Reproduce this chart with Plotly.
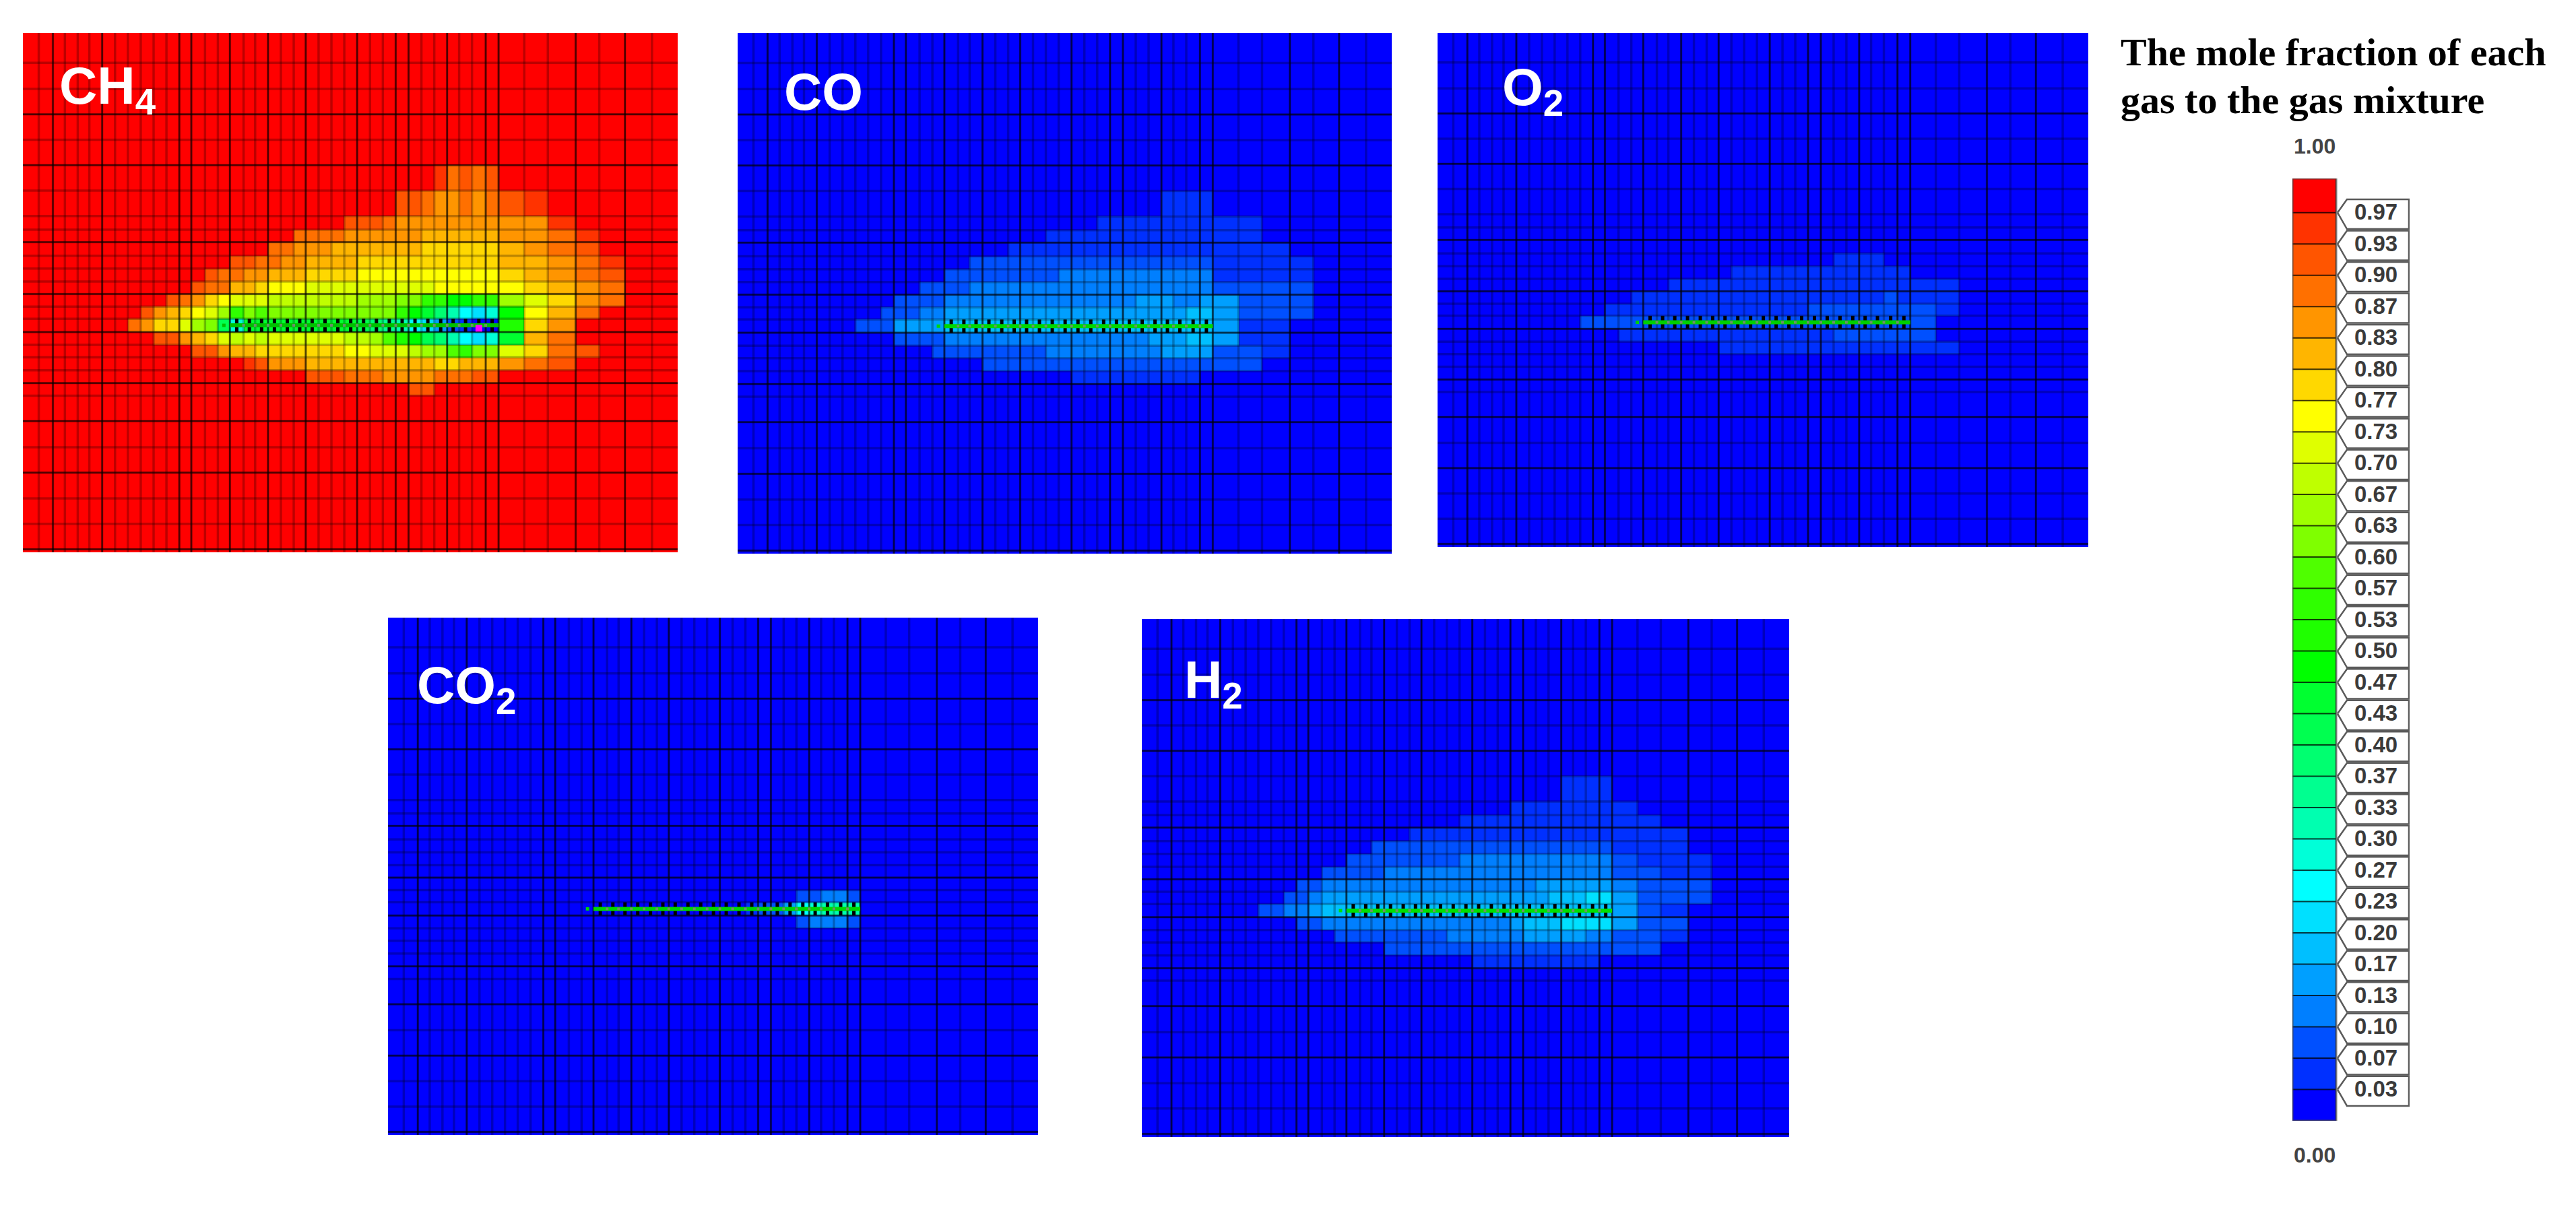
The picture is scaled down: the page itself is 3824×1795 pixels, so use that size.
import plotly.graph_objects as go

W, H = 3824, 1795

# ---- simulation grid (column / row edges, common to all panels) ----
COL_EDGES = [20, 57, 90, 118, 148, 175, 205, 235, 265, 295, 325, 355, 385, 413, 445, 475, 503, 535, 562, 592,
             622, 652, 680, 710, 740, 770, 800, 830, 860, 890, 920, 950, 980, 1010, 1038, 1068, 1100, 1130,
             1190, 1245, 1310, 1365, 1425, 1488, 1548]
ROW_EDGES = [15, 103, 180, 255, 330, 405, 480, 555, 595, 632, 672, 710, 748, 785, 822, 858, 897, 935, 972,
             1010, 1048, 1085, 1160, 1237, 1312, 1388, 1463, 1538, 1547]
HEAVY_COLS = [90, 205, 385, 413, 503, 592, 680, 800, 890, 920, 1010, 1100, 1130, 1310, 1425]
HEAVY_ROWS = [255, 405, 632, 785, 897, 1048, 1160, 1312, 1538]
WELL_ROW = 15
WELL_FIRST_COL = 16
WELL_LAST_COL = 36

# ---- colour bands, lowest to highest ----
BAND_COLORS = ["#0000FF", "#0030FF", "#0050FF", "#007FFF", "#009FFF", "#00BFFF", "#00E0FF", "#00FFFF",
               "#00FFD8", "#00FFB0", "#00FF90", "#00FF70", "#00FF50", "#00FF30", "#00FF00", "#1FFF00",
               "#2FFF00", "#4FFF00", "#7FFF00", "#9FFF00", "#BFFF00", "#DFFF00", "#FFFF00", "#FFD800",
               "#FFB500", "#FF9500", "#FF7000", "#FF5500", "#FF3300", "#FF0000"]
TICK_LABELS = ["0.03", "0.07", "0.10", "0.13", "0.17", "0.20", "0.23", "0.27", "0.30", "0.33", "0.37", "0.40",
               "0.43", "0.47", "0.50", "0.53", "0.57", "0.60", "0.63", "0.67", "0.70", "0.73", "0.77", "0.80",
               "0.83", "0.87", "0.90", "0.93", "0.97"]

# ---- band index per cell: row -> runs of (first column, end column, band) ----
CH4_RUNS = {
    5: [(32, 33, 28), (33, 34, 26), (34, 35, 27), (35, 36, 26), (36, 37, 27)],
    6: [(29, 31, 27), (31, 32, 26), (32, 34, 25), (34, 35, 26), (35, 36, 25), (36, 37, 26), (37, 38, 27), (38, 39, 28)],
    7: [(25, 28, 27), (28, 29, 26), (29, 39, 25), (39, 40, 28)],
    8: [(21, 25, 26), (25, 31, 25), (31, 37, 24), (37, 39, 25), (39, 40, 26), (40, 41, 28)],
    9: [(19, 21, 26), (21, 24, 25), (24, 31, 24), (31, 37, 23), (37, 38, 24), (38, 39, 25), (39, 40, 26), (40, 41, 27)],
    10: [(16, 18, 27), (18, 20, 26), (20, 22, 25), (22, 26, 24), (26, 37, 23), (37, 39, 24), (39, 40, 25), (40, 41, 26), (41, 42, 28)],
    11: [(14, 15, 27), (15, 17, 26), (17, 19, 25), (19, 22, 24), (22, 26, 23), (26, 37, 22), (37, 38, 23), (38, 39, 24), (39, 40, 25), (40, 41, 26), (41, 42, 27)],
    12: [(13, 14, 27), (14, 16, 26), (16, 18, 24), (18, 19, 23), (19, 22, 22), (22, 32, 21), (32, 38, 22), (38, 39, 23), (39, 40, 24), (40, 41, 25), (41, 42, 26)],
    13: [(11, 12, 27), (12, 13, 26), (13, 14, 25), (14, 15, 23), (15, 16, 22), (16, 19, 21), (19, 26, 20), (26, 29, 19), (29, 31, 18), (31, 33, 16), (33, 35, 14), (35, 37, 16), (37, 38, 19), (38, 39, 21), (39, 40, 23), (40, 41, 25), (41, 42, 26)],
    14: [(9, 10, 27), (10, 11, 25), (11, 12, 24), (12, 13, 23), (13, 14, 22), (14, 15, 21), (15, 16, 19), (16, 17, 16), (17, 18, 18), (18, 19, 17), (19, 29, 18), (29, 30, 16), (30, 31, 14), (31, 32, 13), (32, 33, 11), (33, 34, 9), (34, 35, 7), (35, 36, 6), (36, 37, 8), (37, 38, 14), (38, 39, 22), (39, 40, 24), (40, 41, 26)],
    15: [(8, 9, 26), (9, 10, 25), (10, 12, 23), (12, 13, 21), (13, 14, 19), (14, 15, 18), (15, 16, 12), (16, 17, 8), (17, 26, 13), (26, 27, 12), (27, 28, 11), (28, 29, 10), (29, 30, 9), (30, 31, 7), (31, 32, 6), (32, 33, 4), (33, 34, 2), (34, 35, 1), (35, 37, 0), (37, 38, 15), (38, 39, 23), (39, 40, 25)],
    16: [(10, 12, 27), (12, 13, 25), (13, 14, 24), (14, 15, 23), (15, 16, 21), (16, 17, 20), (17, 18, 21), (18, 19, 20), (19, 25, 21), (25, 27, 20), (27, 28, 19), (28, 29, 17), (29, 30, 15), (30, 31, 14), (31, 32, 12), (32, 33, 11), (33, 34, 9), (34, 35, 7), (35, 36, 6), (36, 37, 8), (37, 38, 13), (38, 39, 24), (39, 40, 26)],
    17: [(13, 15, 27), (15, 16, 25), (16, 18, 24), (18, 25, 23), (25, 27, 22), (27, 30, 21), (30, 31, 20), (31, 33, 19), (33, 34, 17), (34, 35, 16), (35, 37, 18), (37, 38, 21), (38, 39, 23), (39, 40, 26), (40, 41, 27)],
    18: [(17, 18, 28), (18, 19, 27), (19, 22, 25), (22, 29, 24), (29, 32, 24), (32, 34, 23), (34, 37, 24), (37, 38, 25), (38, 39, 26), (39, 40, 27)],
    19: [(22, 25, 27), (25, 28, 26), (28, 32, 25), (32, 35, 26), (35, 37, 27)],
    20: [(30, 32, 27)],
}
CO_RUNS = {
    6: [(33, 37, 1)],
    7: [(28, 39, 1)],
    8: [(24, 39, 1)],
    9: [(21, 40, 1)],
    10: [(18, 33, 2), (33, 37, 2), (37, 41, 1)],
    11: [(16, 25, 2), (25, 37, 3), (37, 41, 1)],
    12: [(14, 18, 2), (18, 37, 3), (37, 41, 2)],
    13: [(12, 16, 2), (16, 31, 3), (31, 34, 4), (34, 36, 3), (36, 38, 4), (38, 41, 2)],
    14: [(11, 14, 2), (14, 16, 3), (16, 32, 4), (32, 35, 4), (35, 37, 5), (37, 38, 4), (38, 41, 2)],
    15: [(9, 12, 2), (12, 16, 4), (16, 37, 5), (37, 38, 4), (38, 40, 1)],
    16: [(12, 16, 2), (16, 32, 3), (32, 35, 4), (35, 37, 5), (37, 38, 4), (38, 40, 1)],
    17: [(15, 24, 2), (24, 33, 3), (33, 37, 4), (37, 39, 2), (39, 40, 1)],
    18: [(19, 39, 2)],
    19: [(26, 36, 1)],
}
O2_RUNS = {
    10: [(31, 35, 1)],
    11: [(23, 37, 1)],
    12: [(18, 39, 1)],
    13: [(15, 35, 1), (35, 36, 2), (36, 39, 1)],
    14: [(13, 29, 1), (29, 38, 2), (38, 39, 1)],
    15: [(11, 38, 2)],
    16: [(14, 31, 1), (31, 38, 2)],
    17: [(22, 39, 1)],
}
CO2_RUNS = {
    14: [(32, 34, 2), (34, 36, 3), (36, 37, 2)],
    15: [(28, 29, 1), (29, 31, 2), (31, 32, 4), (32, 33, 7), (33, 34, 8), (34, 37, 9)],
    16: [(32, 33, 2), (33, 36, 3), (36, 37, 2)],
}
H2_RUNS = {
    6: [(33, 37, 1)],
    7: [(29, 38, 1)],
    8: [(25, 39, 1)],
    9: [(21, 40, 1)],
    10: [(18, 37, 2), (37, 40, 1)],
    11: [(16, 25, 2), (25, 37, 3), (37, 38, 2), (38, 41, 1)],
    12: [(14, 19, 2), (19, 37, 3), (37, 39, 2), (39, 41, 1)],
    13: [(12, 14, 2), (14, 31, 3), (31, 37, 4), (37, 38, 3), (38, 41, 2)],
    14: [(11, 13, 2), (13, 14, 3), (14, 32, 4), (32, 35, 5), (35, 37, 6), (37, 38, 4), (38, 41, 2)],
    15: [(9, 11, 2), (11, 13, 3), (13, 14, 4), (14, 37, 5), (37, 38, 4), (38, 39, 2), (39, 40, 1)],
    16: [(12, 14, 2), (14, 29, 3), (29, 30, 4), (30, 33, 5), (33, 37, 6), (37, 38, 4), (38, 40, 2)],
    17: [(15, 24, 2), (24, 30, 3), (30, 35, 4), (35, 37, 3), (37, 39, 2), (39, 40, 1)],
    18: [(19, 39, 2)],
    19: [(26, 36, 1)],
}

# ---- panels: name, runs, background band, pixel box, label pixel position ----
PANELS = [
    ("CH<sub>4</sub>", CH4_RUNS, 29, (34, 1006, 49, 820), (86, 132), "#00C000"),
    ("CO", CO_RUNS, 0, (1095, 2066, 49, 822), (1162, 136), "#00D800"),
    ("O<sub>2</sub>", O2_RUNS, 0, (2134, 3100, 49, 812), (2228, 135), "#00D000"),
    ("CO<sub>2</sub>", CO2_RUNS, 0, (576, 1541, 917, 1685), (617, 1022), "#00D800"),
    ("H<sub>2</sub>", H2_RUNS, 0, (1695, 2656, 919, 1688), (1756, 1014), "#00E000"),
]
BAR_BOX = (3403, 3577, 265, 1664)


def xdom(a, b):
    return [a / W, b / W]


def ydom(t, b):
    return [1 - b / H, 1 - t / H]


def fill_grid(runs, background):
    grid = [[background] * (len(COL_EDGES) - 1) for _ in range(len(ROW_EDGES) - 1)]
    for row, row_runs in runs.items():
        for first, end, band in row_runs:
            for c in range(first, end):
                grid[row][c] = band
    return grid


def lines(vertical, positions, lo, hi):
    a, b = [], []
    for p in positions:
        a += [p, p, None]
        b += [lo, hi, None]
    return (a, b) if vertical else (b, a)


n = len(BAND_COLORS)
colorscale = []
for i, c in enumerate(BAND_COLORS):
    colorscale += [[i / n, c], [(i + 1) / n, c]]

fig = go.Figure()
layout = dict(width=W, height=H, margin=dict(l=0, r=0, t=0, b=0), paper_bgcolor="white", plot_bgcolor="white",
              showlegend=False, autosize=False)
annotations = []

for idx, (label, runs, bg, (x0, x1, y0, y1), (lx, ly), well_col) in enumerate(PANELS):
    s = "" if idx == 0 else str(idx + 1)
    xa, ya = "x" + s, "y" + s
    layout["xaxis" + s] = dict(domain=xdom(x0, x1), range=[COL_EDGES[0], COL_EDGES[-1]], visible=False, anchor=ya, fixedrange=True)
    layout["yaxis" + s] = dict(domain=ydom(y0, y1), range=[ROW_EDGES[-1], ROW_EDGES[0]], visible=False, anchor=xa, fixedrange=True)
    fig.add_trace(go.Heatmap(z=fill_grid(runs, bg), x=COL_EDGES, y=ROW_EDGES, xaxis=xa, yaxis=ya, colorscale=colorscale,
                             zmin=-0.5, zmax=n - 0.5, showscale=False, hoverinfo="skip"))
    # grid lines
    gx, gy = lines(True, COL_EDGES[1:-1], ROW_EDGES[0], ROW_EDGES[-1])
    hx, hy = lines(False, ROW_EDGES[1:-1], COL_EDGES[0], COL_EDGES[-1])
    fig.add_trace(go.Scatter(x=gx + hx, y=gy + hy, xaxis=xa, yaxis=ya, mode="lines", hoverinfo="skip",
                             line=dict(color="rgba(0,0,0,0.26)", width=3.5)))
    gx, gy = lines(True, HEAVY_COLS, ROW_EDGES[0], ROW_EDGES[-1])
    hx, hy = lines(False, HEAVY_ROWS, COL_EDGES[0], COL_EDGES[-1])
    fig.add_trace(go.Scatter(x=gx + hx, y=gy + hy, xaxis=xa, yaxis=ya, mode="lines", hoverinfo="skip",
                             line=dict(color="rgba(0,0,0,0.58)", width=2.5)))
    # well: ticks on each column of the well row, green line through it
    centres = [(COL_EDGES[c] + COL_EDGES[c + 1]) / 2 for c in range(WELL_FIRST_COL, WELL_LAST_COL + 1)]
    tx, ty = lines(True, centres, ROW_EDGES[WELL_ROW], ROW_EDGES[WELL_ROW + 1])
    fig.add_trace(go.Scatter(x=tx, y=ty, xaxis=xa, yaxis=ya, mode="lines", hoverinfo="skip",
                             line=dict(color="#000000", width=5)))
    ymid = (ROW_EDGES[WELL_ROW] + ROW_EDGES[WELL_ROW + 1]) / 2
    fig.add_trace(go.Scatter(x=[COL_EDGES[WELL_FIRST_COL], COL_EDGES[WELL_LAST_COL + 1]], y=[ymid, ymid], xaxis=xa, yaxis=ya,
                             mode="lines", hoverinfo="skip", line=dict(color=well_col, width=6)))
    edges = COL_EDGES[WELL_FIRST_COL + 1:WELL_LAST_COL + 1]
    fig.add_trace(go.Scatter(x=edges, y=[ymid] * len(edges), xaxis=xa, yaxis=ya, mode="markers", hoverinfo="skip",
                             marker=dict(symbol="square", size=4, color="rgba(130,130,130,0.85)", line=dict(width=0))))
    fig.add_trace(go.Scatter(x=[(COL_EDGES[WELL_FIRST_COL - 1] + COL_EDGES[WELL_FIRST_COL]) / 2], y=[ymid], xaxis=xa, yaxis=ya,
                             mode="markers", hoverinfo="skip", marker=dict(symbol="square", size=5, color=well_col, line=dict(width=0))))
    annotations.append(dict(text=label, xref="paper", yref="paper", x=lx / W, y=1 - ly / H, xanchor="left",
                            yanchor="middle", showarrow=False, align="left",
                            font=dict(family="Liberation Sans", size=78, color="white", weight="bold")))

# perforation marker on the CH4 panel
MARK_COL = 35
fig.add_trace(go.Scatter(x=[(COL_EDGES[MARK_COL] + COL_EDGES[MARK_COL + 1]) / 2], y=[886], xaxis="x", yaxis="y", mode="markers",
                         hoverinfo="skip", marker=dict(symbol="square", size=10, color="#FF00FF", line=dict(width=0))))

# ---- colour bar ----
bx0, bx1, by0, by1 = BAR_BOX
BAR_W, TIP_X, SHOULDER_X, BOX_R, LABEL_X = 65, 67, 81, 174, 124
TOP_EXTRA = 0.09  # the top band is drawn slightly taller than the rest
layout["xaxis6"] = dict(domain=xdom(bx0, bx1), range=[0, bx1 - bx0], visible=False, anchor="y6", fixedrange=True)
layout["yaxis6"] = dict(domain=ydom(by0, by1), range=[0, n + TOP_EXTRA], visible=False, anchor="x6", fixedrange=True)
fig.add_trace(go.Heatmap(z=[[i] for i in range(n)], x=[0, BAR_W], y=list(range(n)) + [n + TOP_EXTRA], xaxis="x6", yaxis="y6",
                         colorscale=colorscale, zmin=-0.5, zmax=n - 0.5, showscale=False, hoverinfo="skip"))
bx, by = lines(False, list(range(1, n)), 0, BAR_W)
fig.add_trace(go.Scatter(x=bx, y=by, xaxis="x6", yaxis="y6", mode="lines", hoverinfo="skip",
                         line=dict(color="rgba(0,0,0,0.75)", width=2)))
fig.add_trace(go.Scatter(x=[0, 0, BAR_W, BAR_W, 0], y=[0, n + TOP_EXTRA, n + TOP_EXTRA, 0, 0], xaxis="x6", yaxis="y6", mode="lines",
                         hoverinfo="skip", line=dict(color="rgba(60,60,60,0.7)", width=3)))
HALF = 0.475
OFFSET = 0.05
px, py = [], []
for k in range(1, n):
    px += [TIP_X, SHOULDER_X, BOX_R - 1, BOX_R - 1, SHOULDER_X, TIP_X, None]
    py += [k, k + HALF - OFFSET, k + HALF - OFFSET, k - HALF - OFFSET, k - HALF - OFFSET, k, None]
fig.add_trace(go.Scatter(x=px, y=py, xaxis="x6", yaxis="y6", mode="lines", fill="toself", fillcolor="white", hoverinfo="skip",
                         line=dict(color="#5A5A5A", width=2.5)))
fig.add_trace(go.Scatter(x=[LABEL_X] * (n - 1), y=[k - OFFSET for k in range(1, n)], xaxis="x6", yaxis="y6", mode="text", text=TICK_LABELS,
                         textposition="middle center", hoverinfo="skip",
                         textfont=dict(family="Liberation Sans", size=33, color="#3A3A3A", weight="bold")))

annotations.append(dict(text="1.00", xref="paper", yref="paper", x=3436 / W, y=1 - 217 / H, xanchor="center", yanchor="middle",
                        showarrow=False, font=dict(family="Liberation Sans", size=32, color="#444444", weight="bold")))
annotations.append(dict(text="0.00", xref="paper", yref="paper", x=3436 / W, y=1 - 1715 / H, xanchor="center", yanchor="middle",
                        showarrow=False, font=dict(family="Liberation Sans", size=32, color="#444444", weight="bold")))
for text, y in [("The mole fraction of each", 78), ("gas to the gas mixture", 149)]:
    annotations.append(dict(text=text, xref="paper", yref="paper", x=3146 / W, y=1 - y / H, xanchor="left", yanchor="middle",
                            showarrow=False, font=dict(family="Liberation Serif", size=58, color="black", weight="bold")))

layout["annotations"] = annotations
fig.update_layout(**layout)
fig.write_html("out.html", config=dict(displayModeBar=False),
               post_script="document.body.style.margin='0';document.body.style.overflow='hidden';")
